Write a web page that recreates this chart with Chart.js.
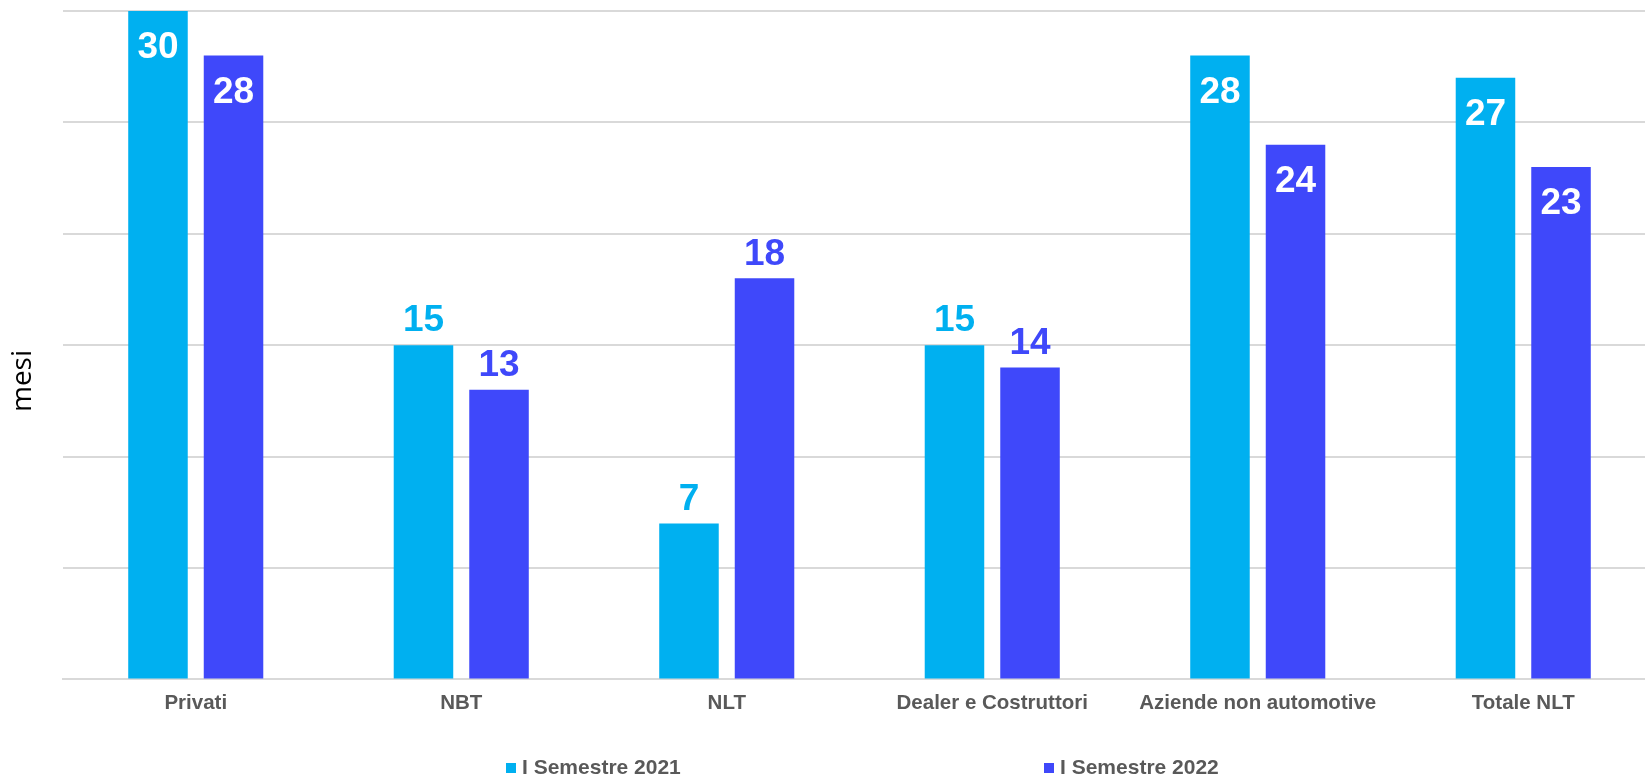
<!DOCTYPE html>
<html>
<head>
<meta charset="utf-8">
<script src="https://cdn.jsdelivr.net/npm/chart.js@4"></script>
<style>
  body { margin: 0; background: #ffffff; overflow: hidden; }
  #wrap { width: 1656px; height: 776px; position: relative; }
</style>
</head>
<body>
<div id="wrap"><canvas id="chart"></canvas></div>
<script>
const categories = ["Privati", "NBT", "NLT", "Dealer e Costruttori", "Aziende non automotive", "Totale NLT"];
const seriesNames = ["I Semestre 2021", "I Semestre 2022"];
const sem2021 = [30, 15, 7, 15, 28, 27];
const sem2022 = [28, 13, 18, 14, 24, 23];
const yTicks = [0, 5, 10, 15, 20, 25, 30];

const cyan = "#00B0F0";
const blue = "#3F48FA";
const grey = "#595959";

// labels: big values sit inside the bar in white, small ones above in the bar colour
const valueLabels = {
  id: "valueLabels",
  afterDatasetsDraw(chart) {
    const ctx = chart.ctx;
    ctx.save();
    ctx.font = "bold 37px 'Liberation Sans', Arial, sans-serif";
    ctx.textAlign = "center";
    ctx.textBaseline = "middle";
    chart.data.datasets.forEach((ds, i) => {
      chart.getDatasetMeta(i).data.forEach((bar, j) => {
        const v = ds.data[j];
        if (v >= 20) {
          ctx.fillStyle = "#ffffff";
          ctx.fillText(v, bar.x, bar.y + 37);
        } else {
          ctx.fillStyle = ds.backgroundColor;
          ctx.fillText(v, bar.x, bar.y - 24);
        }
      });
    });
    ctx.restore();
  }
};

// legend spread along the bottom + rotated axis title
const extras = {
  id: "extras",
  afterDraw(chart) {
    const ctx = chart.ctx;
    const legendX = [506, 1044];
    const legendY = 768;
    ctx.save();
    ctx.font = "bold 21px 'Liberation Sans', Arial, sans-serif";
    ctx.textBaseline = "middle";
    ctx.textAlign = "left";
    chart.data.datasets.forEach((ds, i) => {
      ctx.fillStyle = ds.backgroundColor;
      ctx.fillRect(legendX[i], legendY - 5, 10, 10);
      ctx.fillStyle = grey;
      ctx.fillText(ds.label, legendX[i] + 16, legendY);
    });

    ctx.translate(23, 381);
    ctx.rotate(-Math.PI / 2);
    ctx.font = "28px 'Open Sans', sans-serif";
    ctx.fillStyle = "#000000";
    ctx.textAlign = "center";
    ctx.fillText("mesi", 0, 0);
    ctx.restore();
  }
};

Chart.defaults.font.family = "'Liberation Sans', Arial, sans-serif";

new Chart(document.getElementById("chart"), {
  type: "bar",
  data: {
    labels: categories,
    datasets: [
      { label: seriesNames[0], data: sem2021, backgroundColor: cyan },
      { label: seriesNames[1], data: sem2022, backgroundColor: blue }
    ]
  },
  options: {
    responsive: true,
    maintainAspectRatio: false,
    animation: false,
    categoryPercentage: 0.569,
    barPercentage: 0.788,
    layout: { padding: { left: 63, right: 0, top: 11, bottom: 48 } },
    plugins: {
      legend: { display: false },
      tooltip: { enabled: false }
    },
    scales: {
      x: {
        grid: { display: false, drawTicks: false },
        border: { display: true, color: "#D9D9D9", width: 2 },
        ticks: {
          color: grey,
          padding: 12,
          font: { size: 20.5, weight: "bold" }
        }
      },
      y: {
        min: yTicks[0],
        max: yTicks[yTicks.length - 1],
        afterBuildTicks: axis => { axis.ticks = yTicks.map(v => ({ value: v })); },
        grid: { color: "#D9D9D9", lineWidth: 2, drawTicks: false },
        border: { display: false },
        ticks: { display: false }
      }
    }
  },
  plugins: [valueLabels, extras]
});
</script>
</body>
</html>
